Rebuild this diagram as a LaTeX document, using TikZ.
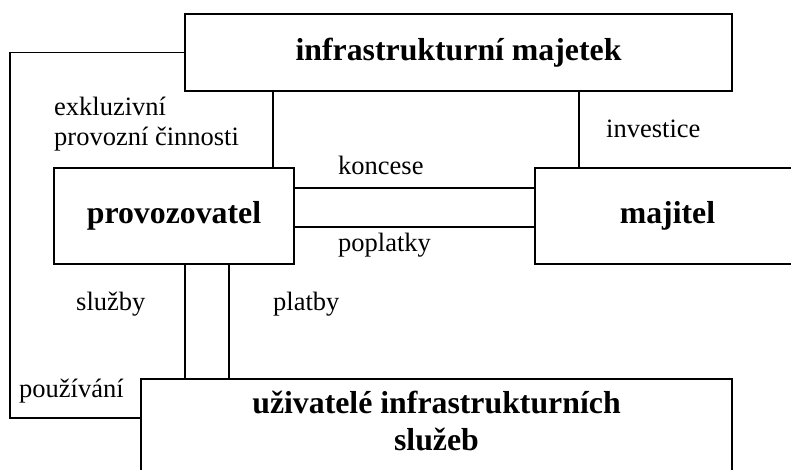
\documentclass[tikz,border=0pt]{standalone}
\usepackage{fontspec}
\setmainfont{Liberation Serif}
\begin{document}
\begin{tikzpicture}[x=1pt,y=-1pt,
  box/.style={draw,line width=1.8pt,inner sep=0pt,font=\fontsize{31.8}{37}\selectfont\bfseries,align=center},
  lbl/.style={inner sep=0pt,anchor=base west,font=\fontsize{26.5}{30}\selectfont},
  link/.style={line width=1.5pt}]
\useasboundingbox (0,0) rectangle (791,470);
\clip (0,0) rectangle (791,470);

% the four parties
\node[box,minimum width=547,minimum height=77] (infra) at (458.5,52.5) {infrastrukturní majetek};
\node[box,minimum width=240,minimum height=96] (prov) at (174,216) {provozovatel};
\node[box,minimum width=265,minimum height=96] (maj) at (667.5,216) {majitel};
\node[box,minimum width=591,minimum height=100,text depth=17pt] (users) at (436.5,429) {uživatelé infrastrukturních\\služeb};

% reference points for the connectors
\coordinate (cx1) at (273,0);
\coordinate (cx2) at (579,0);
\coordinate (cy1) at (0,188);
\coordinate (cy2) at (0,227);
\coordinate (cx3) at (185,0);
\coordinate (cx4) at (229,0);
\coordinate (loopTop) at (10,52.5);
\coordinate (loopBot) at (10,418);

% connectors
\draw[link] (infra.south -| cx1) -- (prov.north -| cx1);
\draw[link] (infra.south -| cx2) -- (maj.north -| cx2);
\draw[link] (prov.east |- cy1) -- (maj.west |- cy1);
\draw[link] (prov.east |- cy2) -- (maj.west |- cy2);
\draw[link] (prov.south -| cx3) -- (users.north -| cx3);
\draw[link] (prov.south -| cx4) -- (users.north -| cx4);
\draw[link,line width=1.8pt] (infra.west) -- (loopTop) -- (loopBot) -- (users.west |- loopBot);

% labels
\node[lbl] (l1) at (54,116) {exkluzivní};
\node[lbl] (l2) at (54,146) {provozní činnosti};
\node[lbl] (l3) at (606,138) {investice};
\node[lbl] (l4) at (338,175) {koncese};
\node[lbl] (l5) at (338,251) {poplatky};
\node[lbl] (l6) at (76,310) {služby};
\node[lbl] (l7) at (273,310) {platby};
\node[lbl] (l8) at (19,397) {používání};
\end{tikzpicture}
\end{document}
